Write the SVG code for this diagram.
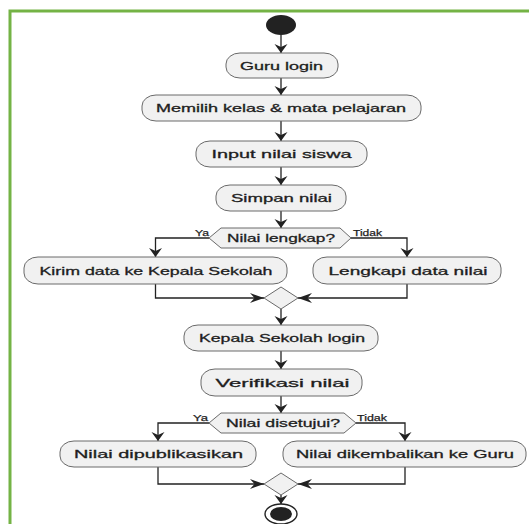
<svg xmlns="http://www.w3.org/2000/svg" width="529" height="524" viewBox="0 0 529 524">
  <style>
    .act { fill: #f1f1f1; stroke: #6a6a6a; stroke-width: 1; }
    .dec { fill: #f1f1f1; stroke: #6a6a6a; stroke-width: 1; }
    .lbl { font-family: "Liberation Sans", Arial, sans-serif; font-size: 11.5px; fill: #1e1e1e; stroke: #1e1e1e; stroke-width: 0.3; text-anchor: middle; }
    .guard { font-family: "Liberation Sans", Arial, sans-serif; font-size: 9.5px; fill: #1e1e1e; stroke: #1e1e1e; stroke-width: 0.25; }
    .flow { fill: none; stroke: #222; stroke-width: 1.3; }
    .flowV { marker-end: url(#arrowV); }
    .flowH { marker-end: url(#arrowH); }
  </style>
  <defs>
    <marker id="arrowV" markerUnits="userSpaceOnUse" orient="auto" refX="9" refY="0" viewBox="-1 -7 11 14" markerWidth="11" markerHeight="14">
      <path d="M9,0 L0,-6.5 L3,0 L0,6.5 Z" fill="#222"/>
    </marker>
    <marker id="arrowH" markerUnits="userSpaceOnUse" orient="auto" refX="14" refY="0" viewBox="-1 -6 16 12" markerWidth="16" markerHeight="12">
      <path d="M14,0 L0,-5 L4.5,0 L0,5 Z" fill="#222"/>
    </marker>
  </defs>

  <rect width="529" height="524" fill="#ffffff"/>
  <!-- frame -->
  <path d="M10,524 V11 H529" fill="none" stroke="#74b345" stroke-width="3"/>

  <g id="connectors">
    <path class="flow flowV" d="M281,35 V53"/>
    <path class="flow flowV" d="M281,78 V95"/>
    <path class="flow flowV" d="M281,121 V141"/>
    <path class="flow flowV" d="M281,167 V185"/>
    <path class="flow flowV" d="M281,211 V228"/>
    <path class="flow flowV" d="M209,238 H155.5 V257"/>
    <path class="flow flowV" d="M351,238 H407 V257"/>
    <path class="flow flowH" d="M155.5,284 V298 H264"/>
    <path class="flow flowH" d="M407,284 V298 H298"/>
    <path class="flow flowV" d="M281,309 V325"/>
    <path class="flow flowV" d="M281,351 V369"/>
    <path class="flow flowV" d="M281,396 V413"/>
    <path class="flow flowV" d="M209,423 H158 V441"/>
    <path class="flow flowV" d="M356,423 H405 V441"/>
    <path class="flow flowH" d="M158,467 V484 H264"/>
    <path class="flow flowH" d="M405,467 V484 H298"/>
    <path class="flow flowV" d="M281,495 V504"/>
    <text class="guard" x="195" y="236" textLength="14" lengthAdjust="spacingAndGlyphs">Ya</text>
    <text class="guard" x="353" y="236" textLength="29" lengthAdjust="spacingAndGlyphs">Tidak</text>
    <text class="guard" x="193" y="421" textLength="15" lengthAdjust="spacingAndGlyphs">Ya</text>
    <text class="guard" x="357" y="421" textLength="30" lengthAdjust="spacingAndGlyphs">Tidak</text>
  </g>

  <g id="start">
    <ellipse cx="281" cy="25" rx="15" ry="10" fill="#222"/>
  </g>

  <g id="guru-login">
    <rect class="act" x="226" y="53" width="112" height="25" rx="14" ry="11"/>
    <text class="lbl" x="281.5" y="69.5" textLength="83" lengthAdjust="spacingAndGlyphs">Guru login</text>
  </g>

  <g id="pilih-kelas">
    <rect class="act" x="142" y="95" width="279" height="26" rx="14" ry="11"/>
    <text class="lbl" x="281" y="112" textLength="250" lengthAdjust="spacingAndGlyphs">Memilih kelas &amp; mata pelajaran</text>
  </g>

  <g id="input-nilai">
    <rect class="act" x="196" y="141" width="171" height="26" rx="14" ry="11"/>
    <text class="lbl" x="281.5" y="158" textLength="140" lengthAdjust="spacingAndGlyphs">Input nilai siswa</text>
  </g>

  <g id="simpan-nilai">
    <rect class="act" x="216" y="185" width="130" height="26" rx="14" ry="11"/>
    <text class="lbl" x="281.5" y="202" textLength="101" lengthAdjust="spacingAndGlyphs">Simpan nilai</text>
  </g>

  <g id="cek-lengkap">
    <polygon class="dec" points="209,238 221,228 340,228 351,238 340,248 221,248"/>
    <text class="lbl" x="281" y="242" textLength="108" lengthAdjust="spacingAndGlyphs">Nilai lengkap?</text>
  </g>

  <g id="kirim-data">
    <rect class="act" x="24" y="257" width="263" height="27" rx="14" ry="11"/>
    <text class="lbl" x="156" y="274.5" textLength="233" lengthAdjust="spacingAndGlyphs">Kirim data ke Kepala Sekolah</text>
  </g>

  <g id="lengkapi-data">
    <rect class="act" x="313" y="257" width="188" height="27" rx="14" ry="11"/>
    <text class="lbl" x="408" y="274.5" textLength="159" lengthAdjust="spacingAndGlyphs">Lengkapi data nilai</text>
  </g>

  <g id="merge-1">
    <polygon class="dec" points="281,287 298,298 281,309 264,298"/>
  </g>

  <g id="kepsek-login">
    <rect class="act" x="184" y="325" width="194" height="26" rx="14" ry="11"/>
    <text class="lbl" x="282" y="342" textLength="166" lengthAdjust="spacingAndGlyphs">Kepala Sekolah login</text>
  </g>

  <g id="verifikasi">
    <rect class="act" x="201" y="369" width="161" height="27" rx="14" ry="11"/>
    <text class="lbl" x="282.5" y="386.5" textLength="134" lengthAdjust="spacingAndGlyphs">Verifikasi nilai</text>
  </g>

  <g id="cek-setuju">
    <polygon class="dec" points="209,423 221,413 344,413 356,423 344,433 221,433"/>
    <text class="lbl" x="283" y="427" textLength="114" lengthAdjust="spacingAndGlyphs">Nilai disetujui?</text>
  </g>

  <g id="publikasi">
    <rect class="act" x="60" y="441" width="196" height="26" rx="14" ry="11"/>
    <text class="lbl" x="158.5" y="458" textLength="169" lengthAdjust="spacingAndGlyphs">Nilai dipublikasikan</text>
  </g>

  <g id="kembalikan">
    <rect class="act" x="283" y="441" width="243" height="26" rx="14" ry="11"/>
    <text class="lbl" x="405" y="458" textLength="218" lengthAdjust="spacingAndGlyphs">Nilai dikembalikan ke Guru</text>
  </g>

  <g id="merge-2">
    <polygon class="dec" points="281,473 298,484 281,495 264,484"/>
  </g>

  <g id="end">
    <ellipse cx="281" cy="514" rx="16" ry="10" fill="#ffffff" stroke="#222" stroke-width="1.4"/>
    <ellipse cx="281" cy="514" rx="11" ry="7" fill="#222"/>
  </g>
</svg>
